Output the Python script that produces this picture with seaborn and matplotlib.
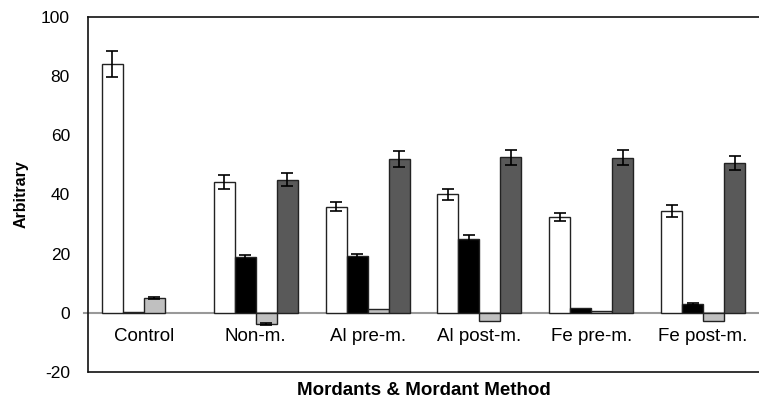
import numpy as np
import pandas as pd
import matplotlib
matplotlib.use("Agg")
import matplotlib.pyplot as plt
import seaborn as sns

categories = ["Control", "Non-m.", "Al pre-m.", "Al post-m.", "Fe pre-m.", "Fe post-m."]
series_names = ["S1", "S2", "S3", "S4"]
s1_values = [84.1, 44.2, 35.9, 40.0, 32.4, 34.5]
s1_errors = [4.4, 2.3, 1.6, 2.0, 1.5, 2.0]
s2_values = [0.4, 18.8, 19.2, 25.0, 1.5, 3.0]
s2_errors = [0.0, 0.8, 0.8, 1.2, 0.0, 0.3]
s3_values = [5.0, -3.8, 1.4, -2.7, 0.5, -2.6]
s3_errors = [0.3, 0.3, 0.0, 0.0, 0.0, 0.0]
s4_values = [0.0, 45.0, 52.0, 52.6, 52.5, 50.6]
s4_errors = [0.0, 2.2, 2.8, 2.5, 2.5, 2.3]
yticks = [-20, 0, 20, 40, 60, 80, 100]

colors = ["#FFFFFF", "#000000", "#C0C0C0", "#595959"]

rows = []
for name, vals, errs in zip(series_names,
                            [s1_values, s2_values, s3_values, s4_values],
                            [s1_errors, s2_errors, s3_errors, s4_errors]):
    for c, v, e in zip(categories, vals, errs):
        rows.append({"category": c, "series": name, "value": v, "err": e})
df = pd.DataFrame(rows)

sns.set_style("white")
plt.rcParams["font.family"] = ["Liberation Sans", "DejaVu Sans"]
plt.rcParams["text.color"] = "black"
plt.rcParams["axes.labelcolor"] = "black"
plt.rcParams["xtick.color"] = "black"
plt.rcParams["ytick.color"] = "black"

fig = plt.figure(figsize=(7.59, 3.99), dpi=100)
ax = fig.add_axes([88 / 759, 1 - 372 / 399, 1 - 88 / 759, (372 - 17) / 399])

sns.barplot(data=df, x="category", y="value", hue="series", order=categories,
            hue_order=series_names, palette=colors, errorbar=None, width=0.75,
            edgecolor="#222222", linewidth=1.0, legend=False, ax=ax, zorder=2)

# hide outlines of zero-height bars
for container in ax.containers:
    for p in container.patches:
        if abs(p.get_height()) < 1e-9:
            p.set_linewidth(0)

# error bars at the bar centres
for container, name in zip(ax.containers, series_names):
    sub = df[df["series"] == name].set_index("category").loc[categories]
    xs = np.array([p.get_x() + p.get_width() / 2 for p in container.patches])
    ys = sub["value"].values
    errs = sub["err"].values
    mask = errs > 0
    ax.errorbar(xs[mask], ys[mask], yerr=errs[mask], fmt="none",
                ecolor="black", elinewidth=1.2, capsize=4, capthick=1.2, zorder=3)

ax.set_xlim(-0.5, 5.5)
ax.set_ylim(-20, 100)
ax.set_yticks(yticks)
ax.set_yticklabels([str(t) for t in yticks])

for s in ["left", "top"]:
    ax.spines[s].set_visible(True)
    ax.spines[s].set_color("#111111")
    ax.spines[s].set_linewidth(1.2)
ax.spines["right"].set_visible(False)
ax.spines["bottom"].set_position(("data", 0))
ax.spines["bottom"].set_color("#999999")
ax.spines["bottom"].set_linewidth(1.5)
ax.spines["bottom"].set_bounds(-0.54, 5.5)
ax.spines["bottom"].set_zorder(1)
ax.plot([0, 1], [0, 0], transform=ax.transAxes, color="#111111", lw=1.2, clip_on=False)

ax.tick_params(axis="x", length=0, pad=11, labelsize=13.5)
ax.tick_params(axis="y", length=0, pad=13, labelsize=12.5)

ax.set_xlabel("")
ax.set_ylabel("Arbitrary", fontsize=11.5, fontweight="bold", labelpad=9)
fig.text((88 + 759) / 2 / 759, 1 - 395 / 399, "Mordants & Mordant Method",
         ha="center", va="baseline", fontsize=13.5, fontweight="bold")

fig.savefig("out.png", dpi=100)
